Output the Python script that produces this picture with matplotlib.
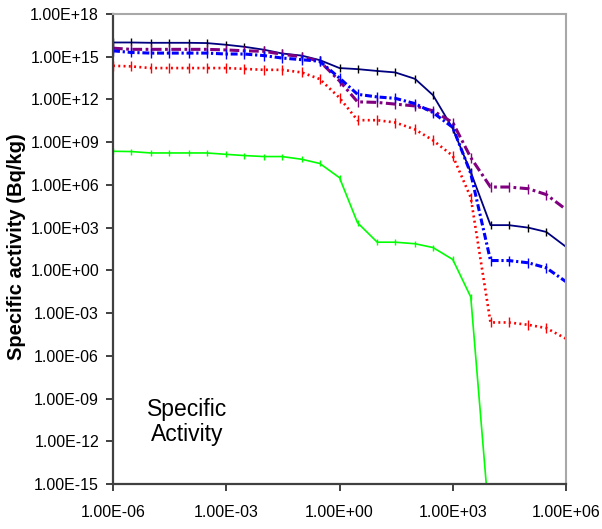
import numpy as np
import matplotlib
matplotlib.use("Agg")
import matplotlib.pyplot as plt
from matplotlib.ticker import FixedLocator, FuncFormatter, NullLocator

# data (time vs specific activity, Bq/kg)
time = [1e-6, 3e-6, 1e-5, 3e-5, 1e-4, 3e-4, 1e-3, 3e-3, 1e-2, 3e-2, 1e-1, 3e-1,
        1e0, 3e0, 1e1, 3e1, 1e2, 3e2, 1e3, 3e3, 1e4, 3e4, 1e5, 3e5, 1e6]

navy = [1.0e16, 1.0e16, 9.5e15, 9.5e15, 9.5e15, 9.1e15, 6.9e15, 5.0e15, 3.1e15, 1.7e15,
        1.2e15, 5.8e14, 1.6e14, 1.35e14, 1.0e14, 7.9e13, 2.8e13, 2.0e12, 9.1e9, 7.9e6,
        1.5e3, 1.5e3, 1.0e3, 5.0e2, 4.5e1]
purple = [4.0e15, 3.3e15, 3.3e15, 3.3e15, 3.3e15, 3.3e15, 3.0e15, 2.6e15, 2.4e15, 1.5e15,
          1.0e15, 4.8e14, 2.0e13, 6.8e11, 6.2e11, 4.7e11, 3.5e11, 1.6e11, 2.4e10, 8.3e7,
          7.1e5, 7.1e5, 5.4e5, 2.1e5, 1.9e4]
blue = [2.6e15, 2.0e15, 1.8e15, 1.8e15, 1.8e15, 1.8e15, 1.55e15, 1.55e15, 1.2e15, 8.1e14,
        6.2e14, 4.8e14, 3.2e13, 2.3e12, 1.5e12, 1.2e12, 5.1e11, 1.2e11, 1.1e10, 6.3e6,
        4.9, 4.9, 3.4, 1.5, 0.16]
red = [2.3e14, 2.1e14, 1.6e14, 1.6e14, 1.6e14, 1.6e14, 1.6e14, 1.4e14, 1.2e14, 1.2e14,
       7.9e13, 2.7e13, 1.3e12, 3.5e10, 3.5e10, 2.4e10, 7.9e9, 1.35e9, 1.1e8, 1.3e5,
       2.2e-4, 2.2e-4, 1.5e-4, 8.9e-5, 1.6e-5]
green = [2.3e8, 2.2e8, 1.75e8, 1.75e8, 1.75e8, 1.75e8, 1.4e8, 1.15e8, 9.8e7, 9.8e7,
         6.3e7, 3.2e7, 3.2e6, 2.2e3, 95, 95, 74, 40, 5.8, 1.35e-2,
         2.5e-19, np.nan, np.nan, np.nan, np.nan]

xticks = [1e-6, 1e-3, 1e0, 1e3, 1e6]
yticks = [1e-15, 1e-12, 1e-9, 1e-6, 1e-3, 1e0, 1e3, 1e6, 1e9, 1e12, 1e15, 1e18]

plt.rcParams["font.family"] = ["Liberation Sans", "DejaVu Sans"]
plt.rcParams["lines.scale_dashes"] = False

fig = plt.figure(figsize=(6.02, 5.29), dpi=100)
W, H = 602, 529
ax = fig.add_axes([113 / W, 1 - 484 / H, (566 - 113) / W, (484 - 14) / H])

ax.plot(time, navy, color="#000080", lw=1.3, marker="|", ms=6, mew=1, mec="black")
ax.plot(time, purple, color="#800080", lw=2.2, ls=(0, (7, 2.5, 2, 2.5)), marker="|", ms=7, mew=1)
ax.plot(time, blue, color="#0000FF", lw=2.2, ls=(0, (5, 2, 1.6, 2)), marker="|", ms=7, mew=1)
ax.plot(time, red, color="#FF0000", lw=1.9, ls=(0, (1.4, 2.4)), marker="|", ms=7, mew=1)
ax.plot(time, green, color="#00FF00", lw=1.2, marker="|", ms=5, mew=1)

ax.set_xscale("log")
ax.set_yscale("log")
ax.set_xlim(1e-6, 1e6)
ax.set_ylim(1e-15, 1e18)
ax.xaxis.set_major_locator(FixedLocator(xticks))
ax.yaxis.set_major_locator(FixedLocator(yticks))
ax.xaxis.set_minor_locator(NullLocator())
ax.yaxis.set_minor_locator(NullLocator())
fmt = FuncFormatter(lambda v, p: f"{v:.2E}")
ax.xaxis.set_major_formatter(fmt)
ax.yaxis.set_major_formatter(fmt)

ax.tick_params(axis="both", direction="out", length=5, width=1.2, color="#202020",
               labelsize=11.5, labelcolor="black")
ax.tick_params(axis="y", pad=5)
ax.tick_params(axis="x", pad=10)

for s in ["left", "bottom"]:
    ax.spines[s].set_color("#404040")
    ax.spines[s].set_linewidth(1.6)
for s in ["top", "right"]:
    ax.spines[s].set_color("#A8A8A8")
    ax.spines[s].set_linewidth(1.5)

fig.text(17 / W, 1 - 247 / H, "Specific activity (Bq/kg)", rotation=90,
         ha="center", va="center", fontsize=14.5, fontweight="bold")

fig.text(187.5 / W, 1 - 441.5 / H, "Specific\nActivity", ha="center", va="baseline",
         multialignment="center", fontsize=16.5, linespacing=1.15)

fig.savefig("out.png", dpi=100)
